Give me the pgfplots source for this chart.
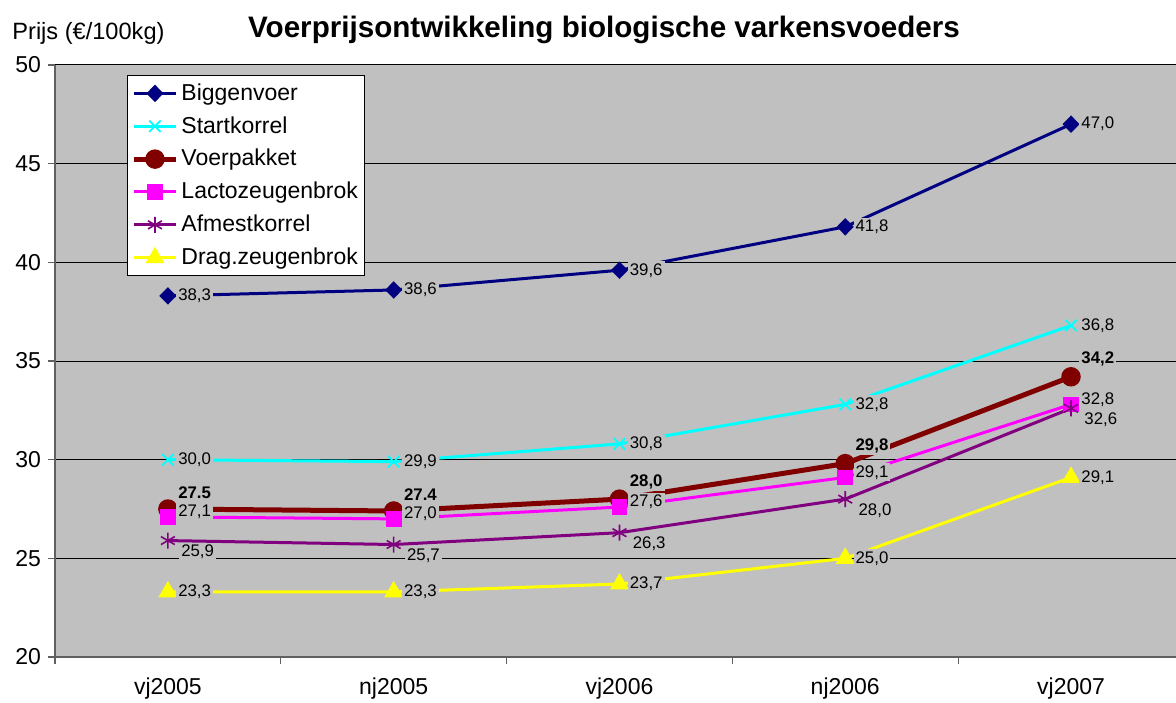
\documentclass[border=0pt]{standalone}
\usepackage{pgfplots}
\usepackage{pgfplotstable}
\pgfplotsset{compat=1.18}
\usepackage{fontspec}
\setmainfont{Liberation Sans}
\definecolor{plotbg}{HTML}{C0C0C0}
\definecolor{cNavy}{HTML}{000080}
\definecolor{cCyan}{HTML}{00FFFF}
\definecolor{cDred}{HTML}{800000}
\definecolor{cMag}{HTML}{FF00FF}
\definecolor{cPurp}{HTML}{800080}
\definecolor{cYel}{HTML}{FFFF00}
\definecolor{axgray}{HTML}{606060}

\pgfplotstableread{
x y lab
0 38.3 38,3
1 38.6 38,6
2 39.6 39,6
3 41.8 41,8
4 47.0 47,0
}\tabA
\pgfplotstableread{
x y lab
0 30.0 30,0
1 29.9 29,9
2 30.8 30,8
3 32.8 32,8
4 36.8 36,8
}\tabB
\pgfplotstableread{
x y lab
0 27.5 27.5
1 27.4 27.4
2 28.0 28,0
3 29.8 29,8
4 34.2 34,2
}\tabC
\pgfplotstableread{
x y lab
0 27.1 27,1
1 27.0 27,0
2 27.6 27,6
3 29.1 29,1
4 32.8 32,8
}\tabD
\pgfplotstableread{
x y lab
0 25.9 25,9
1 25.7 25,7
2 26.3 26,3
3 28.0 28,0
4 32.6 32,6
}\tabE
\pgfplotstableread{
x y lab
0 23.3 23,3
1 23.3 23,3
2 23.7 23,7
3 25.0 25,0
4 29.1 29,1
}\tabF

\begin{document}
\begin{tikzpicture}[x=1pt,y=1pt]
\useasboundingbox (0,0) rectangle (588,351);
\node[anchor=center,font=\fontsize{14.8}{16}\selectfont\bfseries] at (302,336) {Voerprijsontwikkeling biologische varkensvoeders};
\node[anchor=west,font=\fontsize{11.8}{13}\selectfont,inner sep=0pt] at (6,334.5) {Prijs (€/100kg)};
\begin{axis}[
  at={(27.5pt,22.5pt)}, anchor=south west,
  scale only axis, width=560.5pt, height=296pt,
  xmin=-0.5, xmax=4.465, ymin=20, ymax=50,
  ytick={20,25,...,50},
  xtick={-0.5,0.5,1.5,2.5,3.5}, xticklabels={,,,,,},
  extra x ticks={0,1,2,3,4},
  extra x tick labels={vj2005,nj2005,vj2006,nj2006,vj2007},
  extra x tick style={major tick length=0pt, xticklabel style={yshift=-7pt}},
  axis background/.style={fill=plotbg},
  axis x line*=bottom, axis y line*=left,
  axis line style={draw=axgray, line width=1pt},
  tick align=outside, major tick length=3.5pt,
  tick style={draw=axgray, line width=0.6pt},
  ymajorgrids, major grid style={black, line width=0.5pt},
  /pgf/number format/assume math mode=true,
  ticklabel style={font=\fontsize{11.5}{13}\selectfont},
  legend style={at={(0.0642,0.983)}, anchor=north west, fill=white, draw=black,
    line width=0.5pt, font=\fontsize{11.5}{13}\selectfont, row sep=3.6pt,
    inner xsep=2pt, inner ysep=2.5pt, nodes={inner sep=1.5pt}, cells={anchor=west}},
  legend image code/.code={\draw[mark repeat=2,mark phase=2,#1] plot coordinates {(0pt,0pt) (10.5pt,0pt) (21pt,0pt)};},
  clip=false,
]
\addplot[cNavy, line width=1.5pt, mark=diamond*, mark size=3.3pt, mark options={xscale=1.3, solid}] table[x=x,y=y] {\tabA};
\addlegendentry{Biggenvoer}
\addplot[cCyan, line width=1.5pt, mark=x, mark size=4pt, mark options={line width=0.9pt}] table[x=x,y=y] {\tabB};
\addlegendentry{Startkorrel}
\addplot[cDred, line width=2.5pt, mark=*, mark size=3.6pt] table[x=x,y=y] {\tabC};
\addlegendentry{Voerpakket}
\addplot[cMag, line width=1.5pt, mark=square*, mark size=3.2pt] table[x=x,y=y] {\tabD};
\addlegendentry{Lactozeugenbrok}
\addplot[cPurp, line width=1.5pt, mark=asterisk, mark size=4pt, mark options={line width=0.8pt}] table[x=x,y=y] {\tabE};
\addlegendentry{Afmestkorrel}
\addplot[cYel, line width=1.5pt, mark=triangle*, mark size=4pt] table[x=x,y=y] {\tabF};
\addlegendentry{Drag.zeugenbrok}

% data labels (drawn on top)
\pgfplotsset{lbl/.style={draw=none, mark=none, forget plot, nodes near coords, point meta=explicit symbolic,
  nodes near coords style={font=\fontsize{8.4}{9}\selectfont, fill=plotbg, inner sep=1pt, text=black}}}
\addplot[lbl, nodes near coords style={anchor=west, xshift=4pt}] table[x=x,y=y,meta=lab] {\tabA};
\addplot[lbl, nodes near coords style={anchor=west, xshift=4pt}] table[x=x,y=y,meta=lab] {\tabB};
\addplot[lbl, nodes near coords style={anchor=south west, xshift=4pt, yshift=4pt, font=\fontsize{8.4}{9}\selectfont\bfseries}] table[x=x,y=y,meta=lab] {\tabC};
\addplot[lbl, nodes near coords style={anchor=west, xshift=4pt, yshift=2.5pt}] table[x=x,y=y,meta=lab] {\tabD};
\addplot[lbl, nodes near coords style={anchor=north west, xshift=5.5pt, yshift=-1pt}] table[x=x,y=y,meta=lab] {\tabE};
\addplot[lbl, nodes near coords style={anchor=west, xshift=4pt}] table[x=x,y=y,meta=lab] {\tabF};
\end{axis}
\end{tikzpicture}
\end{document}
